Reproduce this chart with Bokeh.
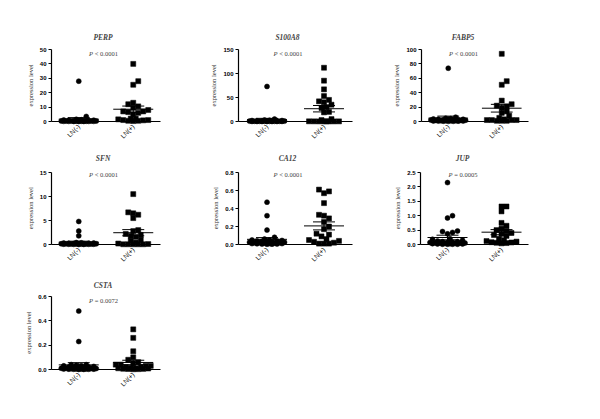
import numpy as np
from math import pi
from bokeh.plotting import figure
from bokeh.models import Range1d, FixedTicker, Label
from bokeh.layouts import column, row
from bokeh.embed import file_html
from bokeh.resources import INLINE

# ---------------- data ----------------
groups = ["LN(-)", "LN(+)"]
genes = ["PERP", "S100A8", "FABP5", "SFN", "CA12", "JUP", "CSTA"]
p_values = ["< 0.0001", "< 0.0001", "< 0.0001", "< 0.0001", "< 0.0001", "= 0.0005", "= 0.0072"]
y_title = "expression level"

perp_neg = [28.0, 3.5, 1.5, 1.2, 1.0, 0.9, 0.8, 0.7, 0.6, 0.5, 0.5, 0.4, 0.4, 0.3, 0.3,
            0.3, 0.2, 0.2, 0.2, 0.1, 0.1, 0.1, 0.1, 0.05, 0.05, 0.05]
perp_pos = [40, 28, 25.5, 13, 12, 10.5, 9.5, 8, 7, 7, 6.5, 6, 5, 2, 2, 1.5, 1, 1, 0.8,
            0.5, 0.5, 0.3]
s100a8_neg = [73, 5, 3, 2.5, 2, 2, 1.5, 1.5, 1, 1, 1, 0.8, 0.8, 0.5, 0.5, 0.5, 0.3, 0.3,
              0.3, 0.2, 0.2, 0.1, 0.1, 0.1, 0.05, 0.05]
s100a8_pos = [112, 85, 67, 53, 45, 42, 40, 35, 30, 28, 20, 19, 5, 3, 0.5, 0.4, 0.3, 0.3,
              0.2, 0.2, 0.1, 0.1]
fabp5_neg = [74, 6, 4.5, 4, 3.5, 3, 3, 2.5, 2.5, 2, 2, 2, 1.8, 1.5, 1.5, 1.2, 1.2, 1, 1,
             0.8, 0.8, 0.6, 0.5, 0.4, 0.3, 0.2]
fabp5_pos = [94, 56, 51, 29, 24, 22, 21, 19, 14, 12, 8, 5, 3, 2, 2, 2, 2, 1, 1, 1]
sfn_neg = [4.8, 2.8, 1.8, 0.4, 0.35, 0.3, 0.3, 0.25, 0.25, 0.2, 0.2, 0.2, 0.15, 0.15, 0.15,
           0.1, 0.1, 0.1, 0.1, 0.08, 0.06, 0.05, 0.05, 0.04, 0.03, 0.02, 0.01]
sfn_pos = [10.5, 6.7, 6.5, 6.2, 5.5, 3.0, 2.8, 2.2, 2.0, 1.8, 1.6, 1.0, 0.8, 0.4, 0.2, 0.1,
           0.05, 0.05, 0.05, 0.05, 0.05]
ca12_neg = [0.47, 0.32, 0.16, 0.08, 0.06, 0.05, 0.05, 0.045, 0.04, 0.04, 0.035, 0.03, 0.03,
            0.025, 0.025, 0.02, 0.02, 0.02, 0.015, 0.015, 0.01, 0.01, 0.01, 0.008, 0.006,
            0.005, 0.004, 0.003]
ca12_pos = [0.61, 0.59, 0.57, 0.46, 0.33, 0.32, 0.29, 0.25, 0.20, 0.17, 0.12, 0.11, 0.09,
            0.06, 0.05, 0.04, 0.03, 0.02, 0.01, 0.01, 0.01]
jup_neg = [2.15, 1.0, 0.92, 0.47, 0.45, 0.42, 0.37, 0.2, 0.18, 0.15, 0.12, 0.1, 0.1, 0.08,
           0.08, 0.07, 0.06, 0.05, 0.05, 0.05, 0.04, 0.04, 0.03, 0.03, 0.02, 0.02, 0.01,
           0.01, 0.01, 0.01]
jup_pos = [1.32, 1.32, 1.15, 0.75, 0.65, 0.55, 0.5, 0.47, 0.4, 0.37, 0.33, 0.3, 0.2, 0.15,
           0.12, 0.1, 0.08, 0.07, 0.06, 0.05, 0.04]
csta_neg = [0.48, 0.23, 0.04, 0.04, 0.035, 0.03, 0.03, 0.025, 0.02, 0.02, 0.015, 0.015,
            0.01, 0.01, 0.01, 0.008, 0.008, 0.006, 0.005, 0.005, 0.004, 0.004, 0.003,
            0.003, 0.002, 0.002, 0.001, 0.001]
csta_pos = [0.33, 0.26, 0.15, 0.10, 0.08, 0.06, 0.05, 0.04, 0.04, 0.03, 0.03, 0.02, 0.02,
            0.015, 0.01, 0.01, 0.008, 0.006, 0.005, 0.004, 0.003, 0.002]

perp_ticks = [0, 10, 20, 30, 40, 50]
s100a8_ticks = [0, 50, 100, 150]
fabp5_ticks = [0, 20, 40, 60, 80, 100]
sfn_ticks = [0, 5, 10, 15]
ca12_ticks = [0, 0.2, 0.4, 0.6, 0.8]
jup_ticks = [0, 0.5, 1.0, 1.5, 2.0, 2.5]
csta_ticks = [0, 0.2, 0.4, 0.6]

perp_labels = ["0", "10", "20", "30", "40", "50"]
s100a8_labels = ["0", "50", "100", "150"]
fabp5_labels = ["0", "20", "40", "60", "80", "100"]
sfn_labels = ["0", "5", "10", "15"]
ca12_labels = ["0.0", "0.2", "0.4", "0.6", "0.8"]
jup_labels = ["0.0", "0.5", "1.0", "1.5", "2.0", "2.5"]
csta_labels = ["0.0", "0.2", "0.4", "0.6"]

panels = [
    (perp_neg, perp_pos, perp_ticks, perp_labels),
    (s100a8_neg, s100a8_pos, s100a8_ticks, s100a8_labels),
    (fabp5_neg, fabp5_pos, fabp5_ticks, fabp5_labels),
    (sfn_neg, sfn_pos, sfn_ticks, sfn_labels),
    (ca12_neg, ca12_pos, ca12_ticks, ca12_labels),
    (jup_neg, jup_pos, jup_ticks, jup_labels),
    (csta_neg, csta_pos, csta_ticks, csta_labels),
]

# ---------------- layout / style ----------------
COL_FIG_W = [196, 194, 202]
COL_LEFT = [51, 42, 30]
COL_FRAME_W = [109, 114, 108]
COL_TXT_OFF = [-3, -8, -12]
ROW_FIG_H = [150, 125, 136]
ROW_AXIS_H = [72, 72, 73]      # pixels from zero line to top tick
ROW_TITLE_PX = [12, 14, 11]    # title centre above top tick
ROW_P_PX = [4, 2, 4]           # p-value centre below top tick
ROW_TOP = [31, 2, 4]           # border above frame
MS = 5
SERIF = "Liberation Serif"
SANS = "Liberation Sans"
AXIS_LABEL_PX = 6.5


def swarm(vals, ppu, size, max_half):
    vals = np.asarray(vals, dtype=float)
    order = np.argsort(vals, kind="stable")
    step = size * 0.5
    cands = [0.0]
    k = 1
    while k * step <= max_half:
        cands += [k * step, -k * step]
        k += 1
    placed = []
    offs = np.zeros(len(vals))
    for i in order:
        y = vals[i] * ppu
        best = None
        for c in cands:
            if all((c - px) ** 2 + (y - py) ** 2 >= (size * 0.95) ** 2 for px, py in placed):
                best = c
                break
        if best is None:
            best = max(cands, key=lambda c: min((c - px) ** 2 + (y - py) ** 2 for px, py in placed))
        placed.append((best, y))
        offs[i] = best
    return offs


def make_panel(idx):
    neg, pos, ticks, tlabels = panels[idx]
    r, c = divmod(idx, 3)
    fw, fh = COL_FIG_W[c], ROW_FIG_H[r]
    left, frame_w = COL_LEFT[c], COL_FRAME_W[c]
    ymax = ticks[-1]
    axis_h = ROW_AXIS_H[r]
    extra = ROW_TITLE_PX[r] + 6
    frame_h = axis_h + extra
    top_b = ROW_TOP[r]
    upp = ymax / axis_h
    p = figure(width=fw, height=fh, x_range=Range1d(0.5, 2.5),
               y_range=Range1d(0, ymax + extra * upp),
               output_backend="svg", toolbar_location=None,
               min_border_left=left, min_border_right=fw - left - frame_w,
               min_border_top=top_b, min_border_bottom=fh - top_b - frame_h)
    p.outline_line_color = None
    p.xgrid.visible = False
    p.ygrid.visible = False
    xpp = 2.0 / frame_w

    for gi, (vals, marker) in enumerate([(neg, "circle"), (pos, "square")]):
        cx = gi + 1
        offs = swarm(vals, 1.0 / upp, MS, 19)
        xs = cx + offs * xpp
        p.scatter(xs, vals, marker=marker, size=MS, fill_color="black", line_color="black",
                  line_width=0.5, level="overlay")
        arr = np.asarray(vals, dtype=float)
        m = arr.mean()
        s = arr.std(ddof=1) / np.sqrt(len(arr))
        p.segment(x0=[cx - 20 * xpp], y0=[m], x1=[cx + 20 * xpp], y1=[m],
                  line_color="black", line_width=1, level="overlay")
        p.segment(x0=[cx - 11 * xpp, cx - 11 * xpp, cx], y0=[m - s, m + s, m - s],
                  x1=[cx + 11 * xpp, cx + 11 * xpp, cx], y1=[m - s, m + s, m + s],
                  line_color="black", line_width=1, level="overlay")

    xa = p.xaxis[0]
    xa.ticker = FixedTicker(ticks=[1, 2])
    xa.major_label_overrides = {1: groups[0], 2: groups[1]}
    xa.major_label_orientation = pi / 4
    xa.major_tick_out = 0
    xa.major_tick_in = 0
    xa.minor_tick_out = 0
    xa.minor_tick_in = 0
    xa.axis_line_width = 1.2
    xa.major_label_text_font = SANS
    xa.major_label_text_font_size = "6.5px"
    xa.major_label_text_color = "black"
    xa.major_label_standoff = 4

    ya = p.yaxis[0]
    ya.ticker = FixedTicker(ticks=ticks)
    ya.major_label_overrides = {t: l for t, l in zip(ticks, tlabels)}
    ya.bounds = (0, ymax)
    ya.major_tick_out = 3
    ya.major_tick_in = 0
    ya.minor_tick_out = 0
    ya.minor_tick_in = 0
    ya.axis_line_width = 1.2
    ya.major_tick_line_width = 1.2
    ya.major_label_text_font = SANS
    ya.major_label_text_font_style = "bold"
    ya.major_label_text_font_size = "6px"
    ya.major_label_text_color = "black"
    ya.major_label_standoff = 2
    # pad with no-break spaces so the rotated label centres on the 0..max axis span
    n_pad = int(round(extra / (0.25 * AXIS_LABEL_PX)))
    ya.axis_label = y_title + "\u00a0" * n_pad
    ya.axis_label_text_font = SERIF
    ya.axis_label_text_font_style = "normal"
    ya.axis_label_text_font_size = f"{AXIS_LABEL_PX}px"
    ya.axis_label_text_color = "#333333"
    ya.axis_label_standoff = 3

    xo = COL_TXT_OFF[c]
    ty = ymax + ROW_TITLE_PX[r] * upp
    py = ymax - ROW_P_PX[r] * upp
    p.add_layout(Label(x=1.5, y=ty, x_offset=xo,
                       text=genes[idx], text_font=SERIF, text_font_style="bold italic",
                       text_font_size="7.5px", text_align="center", text_baseline="middle"))
    p.add_layout(Label(x=1.5, y=py, x_offset=xo - 10,
                       text="P", text_font=SERIF, text_font_style="italic",
                       text_font_size="6.5px", text_align="right", text_baseline="middle"))
    p.add_layout(Label(x=1.5, y=py, x_offset=xo - 8.2,
                       text=p_values[idx], text_font=SERIF, text_font_style="normal",
                       text_font_size="6.5px", text_align="left", text_baseline="middle"))
    return p


figs = [make_panel(i) for i in range(7)]
layout = column(row(figs[0], figs[1], figs[2]), row(figs[3], figs[4], figs[5]), row(figs[6]))

open("out.html", "w").write(file_html(layout, INLINE))
